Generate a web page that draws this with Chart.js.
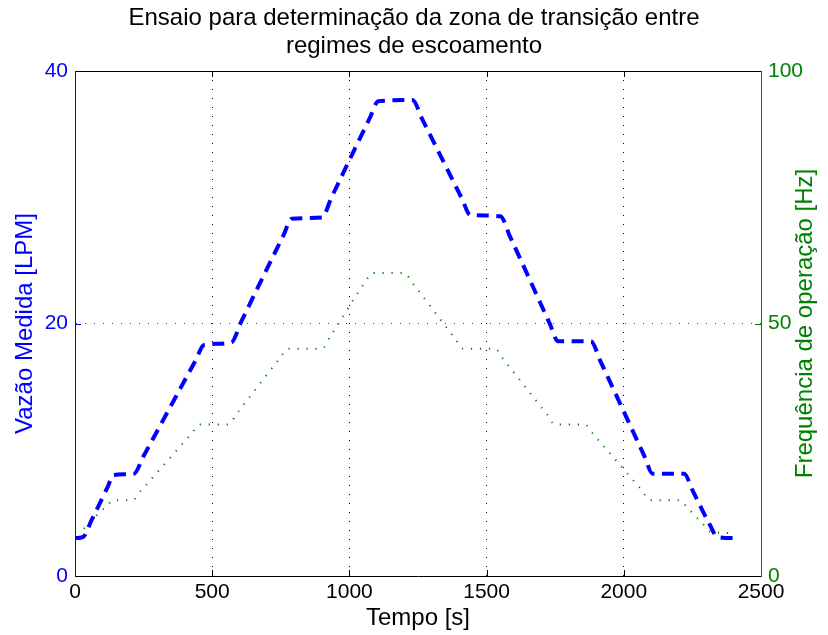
<!DOCTYPE html>
<html><head><meta charset="utf-8">
<script src="https://cdn.jsdelivr.net/npm/chart.js@4/dist/chart.umd.min.js"></script>
<style>html,body{margin:0;padding:0;background:#fff}canvas{display:block}</style>
</head><body>
<canvas id="c" width="828" height="635"></canvas>
<script>
// ---- text ----
const titleLines = ['Ensaio para determinação da zona de transição entre', 'regimes de escoamento'];
const xLabel = 'Tempo [s]';
const yLeftLabel = 'Vazão Medida [LPM]';
const yRightLabel = 'Frequência de operação [Hz]';
// ---- ticks ----
const xTicks = [0, 500, 1000, 1500, 2000, 2500];
const yLeftTicks = [0, 20, 40];
const yRightTicks = [0, 50, 100];
// ---- series: measured flow [LPM] ----
const flowTime = [0, 30, 60, 120, 140, 215, 250, 440, 470, 570, 605, 760, 790, 900, 935, 1075, 1105, 1230, 1265, 1410, 1440, 1550, 1585, 1730, 1760, 1880, 1915, 2075, 2105, 2220, 2250, 2315, 2340, 2400];
const flowLpm  = [3.0, 3.1, 4.4, 7.1, 8.0, 8.1, 9.5, 17.1, 18.3, 18.5, 20.1, 27.0, 28.3, 28.4, 30.0, 36.3, 37.6, 37.7, 36.2, 29.9, 28.6, 28.5, 26.9, 20.0, 18.6, 18.6, 17.0, 9.5, 8.1, 8.1, 6.8, 4.0, 3.1, 3.0];
// ---- series: operating frequency [Hz] ----
const freqTime = [0, 30, 60, 120, 138, 208, 240, 425, 455, 558, 590, 745, 776, 900, 930, 1055, 1085, 1200, 1230, 1385, 1414, 1531, 1560, 1720, 1749, 1858, 1890, 2065, 2096, 2205, 2230, 2290, 2315, 2400];
const freqHz   = [9.0, 9.3, 11.0, 14.1, 15.0, 15.0, 16.9, 28.2, 30.0, 30.0, 32.2, 43.0, 45.0, 45.0, 47.4, 58.0, 60.0, 60.0, 58.0, 47.0, 45.0, 45.0, 43.0, 32.0, 30.0, 30.0, 28.0, 17.0, 15.0, 15.0, 13.6, 10.2, 8.8, 8.5];

const FONT = "'Liberation Sans', Arial, Helvetica, sans-serif";
const BLUE = '#0000ff';
const GREEN = '#008000';
Chart.defaults.font.family = FONT;

const pts = (xs, ys) => xs.map((x, i) => ({x: x, y: ys[i]}));
const setTicks = arr => (s => { s.ticks = arr.map(v => ({value: v})); });
const plain = v => String(v);

const frame = {
  id: 'frame',
  afterDraw(chart) {
    const {ctx, chartArea: a, scales} = chart;
    ctx.save();
    ctx.lineWidth = 1;
    ctx.strokeStyle = '#000';
    ctx.beginPath();
    ctx.moveTo(a.left, Math.round(a.top) + 0.5);
    ctx.lineTo(a.right, Math.round(a.top) + 0.5);
    ctx.stroke();
    xTicks.slice(1, -1).forEach(v => {
      const px = Math.round(scales.x.getPixelForValue(v)) + 0.5;
      ctx.beginPath();
      ctx.moveTo(px, a.bottom); ctx.lineTo(px, a.bottom - 6);
      ctx.moveTo(px, a.top); ctx.lineTo(px, a.top + 6);
      ctx.stroke();
    });
    ctx.strokeStyle = BLUE;
    yLeftTicks.slice(1, -1).forEach(v => {
      const py = Math.round(scales.y.getPixelForValue(v)) + 0.5;
      ctx.beginPath(); ctx.moveTo(a.left, py); ctx.lineTo(a.left + 6, py); ctx.stroke();
    });
    ctx.strokeStyle = GREEN;
    yRightTicks.slice(1, -1).forEach(v => {
      const py = Math.round(scales.y2.getPixelForValue(v)) + 0.5;
      ctx.beginPath(); ctx.moveTo(a.right, py); ctx.lineTo(a.right - 6, py); ctx.stroke();
    });
    // right axis label, reading bottom-to-top
    ctx.fillStyle = GREEN;
    ctx.font = '24px ' + FONT;
    ctx.textAlign = 'center';
    ctx.textBaseline = 'middle';
    ctx.translate(805, (a.top + a.bottom) / 2);
    ctx.rotate(-Math.PI / 2);
    ctx.fillText(yRightLabel, 0, 0);
    ctx.restore();
  }
};

new Chart(document.getElementById('c'), {
  type: 'line',
  data: {
    datasets: [
      {
        label: yLeftLabel,
        data: pts(flowTime, flowLpm),
        yAxisID: 'y',
        borderColor: BLUE,
        borderWidth: 4,
        borderDash: [12, 7.5],
        pointRadius: 0,
        cubicInterpolationMode: 'monotone',
        fill: false
      },
      {
        label: yRightLabel,
        data: pts(freqTime, freqHz),
        yAxisID: 'y2',
        borderColor: GREEN,
        borderWidth: 2,
        borderDash: [1.2, 7.8],
        pointRadius: 0,
        cubicInterpolationMode: 'monotone',
        fill: false
      }
    ]
  },
  options: {
    responsive: false,
    animation: false,
    events: [],
    layout: {padding: 0},
    plugins: {
      legend: {display: false},
      tooltip: {enabled: false},
      title: {
        display: true,
        text: titleLines,
        color: '#000',
        font: {size: 24, weight: 'normal', lineHeight: 28 / 24},
        padding: {top: 4, bottom: 11}
      }
    },
    scales: {
      x: {
        type: 'linear',
        min: 0, max: 2500,
        afterBuildTicks: setTicks(xTicks),
        afterFit: s => { s.height = 59; },
        ticks: {color: '#000', font: {size: 21}, padding: 4, maxRotation: 0, autoSkip: false, callback: plain},
        grid: {
          drawTicks: false,
          lineWidth: 1,
          color: c => (c.tick && (c.tick.value === 0 || c.tick.value === 2500)) ? 'rgba(0,0,0,0)' : '#000'
        },
        border: {display: true, color: '#000', width: 1, dash: [1, 8]},
        title: {display: true, text: xLabel, color: '#000', font: {size: 24}, padding: {top: 0, bottom: 2}}
      },
      y: {
        type: 'linear',
        position: 'left',
        min: 0, max: 40,
        afterBuildTicks: setTicks(yLeftTicks),
        afterFit: s => { s.width = 75; },
        ticks: {color: BLUE, font: {size: 21}, padding: 7, callback: plain},
        grid: {
          drawTicks: false,
          lineWidth: 1,
          color: c => (c.tick && c.tick.value === 20) ? '#3333ff' : 'rgba(0,0,0,0)'
        },
        border: {display: true, color: BLUE, width: 1, dash: [1, 8]},
        title: {display: true, text: yLeftLabel, color: BLUE, font: {size: 24}, padding: {top: 11, bottom: 0}}
      },
      y2: {
        type: 'linear',
        position: 'right',
        min: 0, max: 100,
        afterBuildTicks: setTicks(yRightTicks),
        afterFit: s => { s.width = 67; },
        ticks: {color: GREEN, font: {size: 21}, padding: 7, callback: plain},
        grid: {display: false, drawTicks: false},
        border: {display: true, color: GREEN, width: 1}
      }
    }
  },
  plugins: [frame]
});
</script>
</body></html>
